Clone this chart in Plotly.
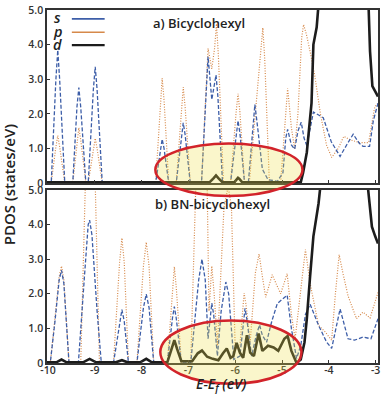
import plotly.graph_objects as go
from plotly.subplots import make_subplots

# ---------------- data (energy E-Ef in eV, PDOS in states/eV) ----------------
top_s = [(-10.02,0),(-9.93,0),(-9.83,3.0),(-9.79,3.84),(-9.75,3.0),(-9.64,0),
         (-9.47,0),(-9.38,2.2),(-9.34,2.76),(-9.30,2.2),(-9.19,0),
         (-9.14,0),(-9.03,2.7),(-8.99,3.36),(-8.95,2.7),(-8.84,0),
         (-7.70,0),(-7.60,1.0),(-7.56,1.27),(-7.52,1.0),(-7.42,0),
         (-7.26,0),(-7.15,1.4),(-7.11,1.74),(-7.07,1.4),(-6.96,0),
         (-6.72,0),(-6.62,2.9),(-6.58,3.65),(-6.50,2.41),(-6.44,2.9),(-6.41,3.12),(-6.37,2.5),(-6.27,0),
         (-6.10,0),(-5.98,1.45),(-5.94,1.8),(-5.90,1.45),(-5.80,0),
         (-5.72,0),(-5.62,1.8),(-5.58,2.27),(-5.52,1.6),(-5.42,0.4),(-5.30,0.1),(-5.10,0.05),
         (-4.98,0.3),(-4.92,1.3),(-4.88,1.55),(-4.80,1.1),(-4.73,0.98),(-4.66,1.5),(-4.59,1.76),
         (-4.53,1.3),(-4.47,1.08),(-4.40,1.6),(-4.33,2.05),(-4.20,1.95),(-4.12,1.89),(-3.95,1.2),
         (-3.76,0.77),(-3.62,1.1),(-3.48,1.41),(-3.35,1.15),(-3.27,1.06),(-3.13,1.06),(-3.05,1.8),(-2.95,2.31)]

top_p = [(-10.02,0),(-9.93,0),(-9.83,1.05),(-9.79,1.37),(-9.75,1.05),(-9.64,0),
         (-9.47,0),(-9.38,1.25),(-9.34,1.6),(-9.30,1.25),(-9.19,0),
         (-9.14,0),(-9.03,1.0),(-8.99,1.29),(-8.95,1.0),(-8.84,0),
         (-7.70,0),(-7.60,2.4),(-7.56,3.03),(-7.52,2.4),(-7.42,0),
         (-7.26,0),(-7.15,2.2),(-7.11,2.77),(-7.07,2.2),(-6.96,0),
         (-6.72,0),(-6.62,3.1),(-6.58,3.89),(-6.50,3.3),(-6.44,3.9),(-6.40,4.6),(-6.36,3.7),(-6.25,0),
         (-6.10,0),(-5.98,2.05),(-5.94,2.58),(-5.90,2.05),(-5.80,0),
         (-5.70,0),(-5.58,1.8),(-5.46,3.6),(-5.41,4.49),(-5.37,3.6),(-5.27,0),
         (-5.03,0),(-4.92,2.2),(-4.88,2.74),(-4.80,1.6),(-4.73,0.98),(-4.66,2.0),(-4.58,4.2),
         (-4.54,4.58),(-4.48,4.3),(-4.40,3.8),(-4.30,3.1),(-4.18,2.0),(-4.05,1.1),(-3.94,0.74),
         (-3.80,1.0),(-3.68,1.35),(-3.55,1.25),(-3.35,1.17),(-3.15,1.17),(-3.02,2.2),(-2.95,2.3)]

top_d = [(-10.02,0.02),(-6.55,0.02),(-6.46,0.14),(-6.41,0.22),(-6.36,0.14),(-6.27,0.02),
         (-6.02,0.02),(-5.97,0.12),(-5.94,0.15),(-5.91,0.12),(-5.85,0.02),
         (-4.60,0.02),(-4.55,0.3),(-4.47,0.89),(-4.37,2.31),(-4.33,4.0),(-4.26,4.5),(-4.20,5.5),
         (-4.14,8.0),(-3.22,8.0),(-3.15,5.0),(-3.12,3.8),(-3.07,2.8),(-2.99,2.6),(-2.95,2.5)]

bot_s = [(-10.02,0),(-9.95,0),(-9.85,1.2),(-9.76,2.4),(-9.71,2.68),(-9.66,2.3),(-9.55,0),
         (-9.35,0),(-9.22,2.5),(-9.14,4.0),(-9.11,4.13),(-9.06,3.7),(-8.95,1.5),(-8.86,0),
         (-8.60,0),(-8.47,1.2),(-8.42,1.54),(-8.37,1.2),(-8.28,0),
         (-8.10,0),(-7.96,1.6),(-7.90,1.99),(-7.84,1.6),(-7.74,0),
         (-7.45,0),(-7.34,1.3),(-7.30,1.63),(-7.26,1.3),(-7.15,0),
         (-6.95,0),(-6.78,2.4),(-6.71,3.0),(-6.64,2.4),(-6.58,0.7),(-6.53,1.4),(-6.50,1.73),
         (-6.46,1.4),(-6.38,0.2),(-6.30,1.5),(-6.20,2.34),(-6.14,2.0),(-6.03,0.1),(-5.90,0.2),
         (-5.82,1.25),(-5.79,1.58),(-5.75,1.25),(-5.65,0.2),(-5.55,0.8),(-5.48,1.1),(-5.42,0.8),
         (-5.33,0.6),(-5.22,1.2),(-5.10,1.72),(-4.89,1.96),(-4.80,1.0),(-4.69,0.13),(-4.60,0.5),
         (-4.50,1.4),(-4.40,1.7),(-4.22,1.09),(-4.05,0.61),(-3.94,0.42),(-3.85,1.0),(-3.76,1.56),
         (-3.59,0.7),(-3.45,0.66),(-3.27,0.75),(-3.10,0.7),(-2.95,1.28)]

bot_p = [(-10.02,0),(-9.95,0),(-9.85,1.3),(-9.76,2.5),(-9.71,2.8),(-9.66,2.4),(-9.55,0),
         (-9.30,0),(-9.20,5.2),(-9.10,6.5),(-8.99,5.2),(-8.90,0),
         (-8.60,0),(-8.47,2.9),(-8.42,3.61),(-8.37,2.9),(-8.28,0),
         (-8.10,0),(-7.96,2.8),(-7.90,3.49),(-7.84,2.8),(-7.74,0),
         (-7.45,0),(-7.34,2.2),(-7.30,2.78),(-7.26,2.2),(-7.15,0),
         (-6.95,0),(-6.84,5.2),(-6.72,6.5),(-6.60,5.2),(-6.56,1.5),(-6.50,2.8),(-6.45,2.0),
         (-6.38,0.5),(-6.24,4.5),(-6.15,5.1),(-6.08,4.5),(-6.00,0.4),(-5.90,0.5),(-5.84,1.7),
         (-5.81,2.02),(-5.77,1.7),(-5.68,0.6),(-5.57,2.6),(-5.49,3.15),(-5.42,2.5),(-5.35,1.9),
         (-5.21,2.55),(-5.03,2.0),(-4.89,2.58),(-4.80,1.4),(-4.72,0.7),(-4.62,1.8),(-4.50,3.28),
         (-4.40,2.3),(-4.22,1.09),(-4.08,0.9),(-3.94,0.66),(-3.86,2.0),(-3.78,3.13),(-3.70,2.6),
         (-3.59,1.94),(-3.41,1.28),(-3.27,1.47),(-3.12,1.3),(-2.95,2.04)]

bot_d = [(-10.02,0.02),(-9.82,0.02),(-9.71,0.1),(-9.60,0.02),(-9.25,0.02),(-9.11,0.12),(-8.97,0.02),
         (-8.55,0.02),(-8.42,0.08),(-8.30,0.02),(-8.03,0.02),(-7.90,0.12),(-7.78,0.02),
         (-7.45,0.02),(-7.36,0.4),(-7.30,0.66),(-7.24,0.4),(-7.15,0.05),(-6.92,0.05),(-6.80,0.28),
         (-6.71,0.36),(-6.60,0.18),(-6.48,0.12),(-6.36,0.08),(-6.26,0.28),(-6.18,0.42),(-6.10,0.15),
         (-6.04,0.2),(-5.97,0.58),(-5.90,0.3),(-5.83,0.15),(-5.75,0.8),(-5.68,0.3),(-5.60,0.2),
         (-5.50,0.85),(-5.42,0.35),(-5.30,0.5),(-5.18,0.45),(-5.08,0.35),(-4.95,0.7),(-4.88,0.78),
         (-4.80,0.35),(-4.69,0.0),(-4.60,0.1),(-4.52,0.6),(-4.47,1.28),(-4.40,2.51),(-4.33,3.66),
         (-4.22,4.61),(-4.15,5.5),(-4.08,8.0),(-3.25,8.0),(-3.16,5.0),(-3.08,3.94),(-3.01,3.66),
         (-2.95,3.45)]

x_tickvals = [-10, -9, -8, -7, -6, -5, -4, -3]
x_ticktext = ["-10", "-9", "-8", "-7", "-6", "-5", "-4", "-3"]
y_tickvals = [0, 1, 2, 3, 4, 5]
y_ticktext = ["0", "1.0", "2.0", "3.0", "4.0", "5.0"]
panel_titles = ["a) Bicyclohexyl", "b) BN-bicyclohexyl"]
orbital_names = ["s", "p", "d"]

# ---------------- styling ----------------
FONT = "Open Sans"
S_COL = "#3d5ea8"
P_COL = "#d6894a"
D_COL = "#1c1c1c"

fig = make_subplots(rows=2, cols=1, shared_xaxes=True, vertical_spacing=0.02)

def add_panel(row, s, p, d):
    for data, col, width, dash in [(p, P_COL, 1.2, "1px,1.6px"),
                                   (s, S_COL, 1.3, "4px,2px"),
                                   (d, D_COL, 2.6, "solid")]:
        fig.add_trace(go.Scatter(x=[a for a, b in data], y=[b for a, b in data],
                                 mode="lines", line=dict(color=col, width=width, dash=dash),
                                 showlegend=False, hoverinfo="skip"), row=row, col=1)

add_panel(1, top_s, top_p, top_d)
add_panel(2, bot_s, bot_p, bot_d)

axis_common = dict(showline=True, mirror=True, linecolor="#333333", linewidth=1.5,
                   showgrid=False, zeroline=False, ticks="inside", ticklen=3,
                   tickcolor="#333333",
                   tickfont=dict(family=FONT, size=10.5, color="#333333", weight=600))

fig.update_xaxes(range=[-10.02, -2.95], tickvals=x_tickvals, ticktext=x_ticktext,
                 ticklabelstandoff=-3, **axis_common)
fig.update_xaxes(showticklabels=False, row=1, col=1)
fig.update_yaxes(range=[0, 5], tickvals=y_tickvals, ticktext=y_ticktext, **axis_common)

W, H = 383, 394
ML, MR, MT, MB = 47, 3, 6, 31
PW, PH = W - ML - MR, H - MT - MB

def px(xp):
    return (xp - ML) / PW

def py(yp):
    return (H - MB - yp) / PH

fig.update_layout(
    width=W, height=H,
    margin=dict(l=ML, r=MR, t=MT, b=MB),
    paper_bgcolor="white", plot_bgcolor="white",
    yaxis=dict(domain=[py(181), 1]),
    yaxis2=dict(domain=[0, py(188)]),
)

annotations = [
    dict(x=px(200), y=py(19), text=panel_titles[0]),
    dict(x=px(214), y=py(202), text=panel_titles[1]),
]
anns = []
for a in annotations:
    anns.append(dict(xref="paper", yref="paper", x=a["x"], y=a["y"], text=a["text"],
                     showarrow=False, xanchor="center", yanchor="middle",
                     font=dict(family=FONT, size=13, color="#222222", weight=600)))

legend_y = [15, 28.5, 41.5]
legend_cols = [S_COL, P_COL, D_COL]
legend_w = [1.6, 1.6, 2.2]
shapes = []
for name, yy, col, lw in zip(orbital_names, legend_y, legend_cols, legend_w):
    anns.append(dict(xref="paper", yref="paper", x=px(58), y=py(yy - 1), text="<i>%s</i>" % name,
                     showarrow=False, xanchor="center", yanchor="middle", borderpad=0,
                     font=dict(family=FONT, size=14.5, color="#222222", weight=600)))
    shapes.append(dict(type="line", xref="paper", yref="paper",
                       x0=px(72), x1=px(105), y0=py(yy), y1=py(yy),
                       line=dict(color=col, width=lw)))

anns.append(dict(xref="paper", yref="paper", x=px(9), y=py(182), text="PDOS (states/eV)",
                 textangle=-90, showarrow=False, xanchor="center", yanchor="middle",
                 font=dict(family=FONT, size=15, color="#222222", weight=600)))
anns.append(dict(xref="paper", yref="paper", x=px(222), y=py(385),
                 text="<i>E-E<sub>f</sub> (eV)</i>",
                 showarrow=False, xanchor="center", yanchor="middle", borderpad=0,
                 font=dict(family=FONT, size=14, color="#222222", weight=600)))

# highlighted ellipses
for (x0, x1, y0, y1) in [(156, 304, 194, 141), (161, 303, 384, 320)]:
    shapes.append(dict(type="circle", xref="paper", yref="paper", layer="above",
                       x0=px(x0), x1=px(x1), y0=py(y0), y1=py(y1),
                       fillcolor="rgba(238,222,70,0.28)",
                       line=dict(color="#d2232a", width=2.5)))

fig.update_layout(annotations=anns, shapes=shapes)
fig.write_html("out.html", config={"displayModeBar": False},
               post_script="document.body.style.margin='0px';")
